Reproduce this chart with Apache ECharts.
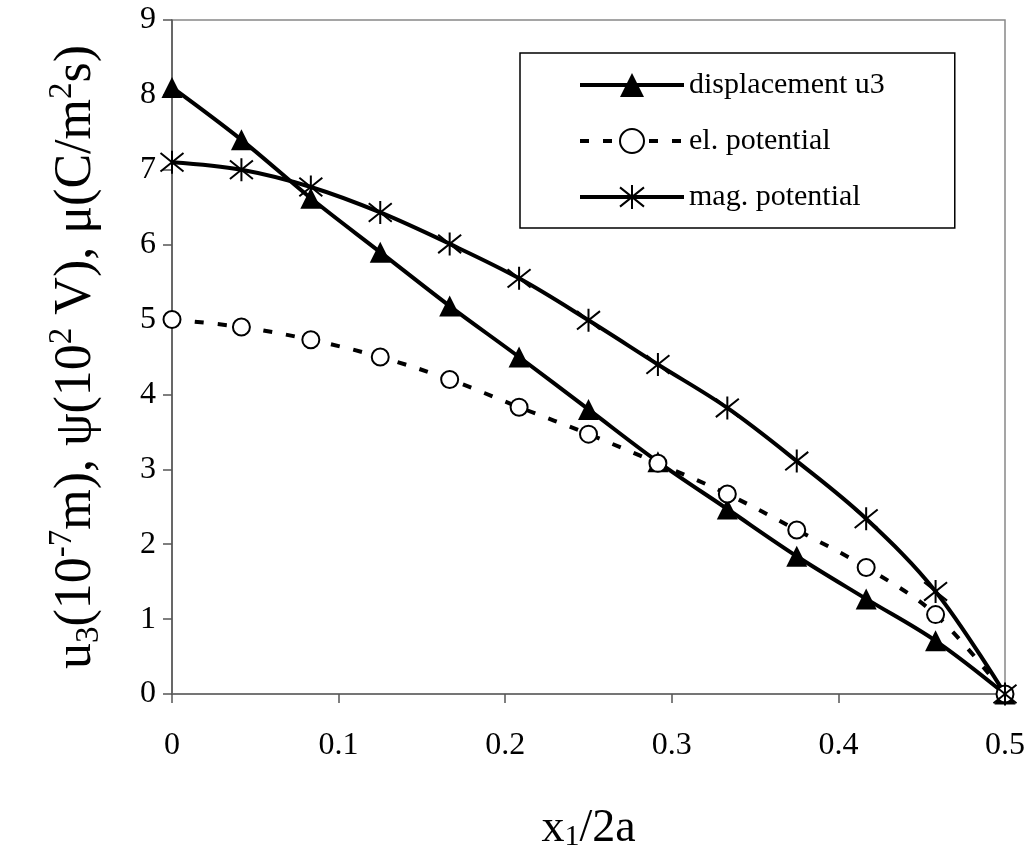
<!DOCTYPE html>
<html>
<head>
<meta charset="utf-8">
<script src="https://cdn.jsdelivr.net/npm/echarts@6/dist/echarts.min.js"></script>
<style>html,body{margin:0;padding:0;background:#fff;}#c{width:1032px;height:850px;}</style>
</head>
<body>
<div id="c"></div>
<script>
const xValues = [0, 1/24, 2/24, 3/24, 4/24, 5/24, 6/24, 7/24, 8/24, 9/24, 10/24, 11/24, 12/24];
const displacementU3 = [8.1, 7.4, 6.62, 5.9, 5.18, 4.5, 3.8, 3.1, 2.47, 1.84, 1.27, 0.71, 0];
const elPotential = [5.0, 4.9, 4.73, 4.5, 4.2, 3.83, 3.47, 3.08, 2.67, 2.19, 1.69, 1.06, 0];
const magPotential = [7.1, 7.0, 6.77, 6.43, 6.01, 5.55, 4.99, 4.4, 3.82, 3.11, 2.34, 1.37, 0];
const seriesNames = ['displacement u3', 'el. potential', 'mag. potential'];

const pair = arr => xValues.map((x, i) => [x, arr[i]]);
const FONT = '"Liberation Serif", "Times New Roman", serif';
const star = 'path://M2,2 L18,18 M18,2 L2,18 M10,0 L10,20';

const chart = echarts.init(document.getElementById('c'), null, {renderer: 'canvas'});
chart.setOption({
  animation: false,
  backgroundColor: '#fff',
  grid: {left: 172, right: 27, top: 20, bottom: 156, show: true, borderColor: '#888', borderWidth: 1.5,
    containLabel: false, outerBoundsMode: 'none'},
  legend: {
    orient: 'vertical', left: 520, top: 53,
    padding: [17, 70, 16, 58],
    itemWidth: 104, itemHeight: 30, itemGap: 26,
    borderColor: '#000', borderWidth: 1.5,
    lineStyle: {width: 4},
    textStyle: {fontFamily: FONT, fontSize: 30, color: '#000'},
    data: seriesNames
  },
  xAxis: {
    type: 'value', min: 0, max: 0.5, interval: 0.1,
    axisLine: {lineStyle: {color: '#666', width: 1.5}},
    axisTick: {inside: false, length: 9, lineStyle: {color: '#555', width: 1.5}},
    splitLine: {show: false},
    axisLabel: {fontFamily: FONT, fontSize: 32, color: '#000', margin: 36,
      formatter: v => v === 0 ? '0' : v.toFixed(1)},
    name: '{n|x}{s|1}{n|/2a}',
    nameLocation: 'middle', nameGap: 112,
    nameTextStyle: {rich: {
      n: {fontFamily: FONT, fontSize: 46, color: '#000'},
      s: {fontFamily: FONT, fontSize: 30, color: '#000', verticalAlign: 'bottom', padding: [16,0,0,0]}
    }}
  },
  yAxis: {
    type: 'value', min: 0, max: 9, interval: 1,
    axisLine: {lineStyle: {color: '#555', width: 1.5}},
    axisTick: {inside: false, length: 9, lineStyle: {color: '#555', width: 1.5}},
    splitLine: {show: false},
    axisLabel: {fontFamily: FONT, fontSize: 32, color: '#000', margin: 16},
    name: '{n|u}{s|3}{n|(10}{p|-7}{n|m), ψ(10}{p|2}{n| V), μ(C/m}{p|2}{n|s)}',
    nameLocation: 'middle', nameGap: 66, nameRotate: 90,
    nameTextStyle: {rich: {
      n: {fontFamily: FONT, fontSize: 52, color: '#000', lineHeight: 60},
      s: {fontFamily: FONT, fontSize: 33, color: '#000', lineHeight: 60, verticalAlign: 'bottom', padding: [20,0,0,0]},
      p: {fontFamily: FONT, fontSize: 33, color: '#000', lineHeight: 60, verticalAlign: 'top', padding: [0,0,24,0]}
    }}
  },
  series: [
    {
      name: seriesNames[0], type: 'line', data: pair(displacementU3), smooth: 0.35,
      symbol: 'triangle', symbolSize: 21,
      lineStyle: {color: '#000', width: 4},
      itemStyle: {color: '#000', borderColor: '#000', borderWidth: 0}
    },
    {
      name: seriesNames[1], type: 'line', data: pair(elPotential), smooth: 0.35,
      symbol: 'circle', symbolSize: 17,
      lineStyle: {color: '#000', width: 4, type: [9, 14]},
      itemStyle: {color: '#fff', borderColor: '#000', borderWidth: 2}
    },
    {
      name: seriesNames[2], type: 'line', data: pair(magPotential), smooth: 0.35,
      symbol: star, symbolSize: 23,
      lineStyle: {color: '#000', width: 4},
      itemStyle: {color: '#000', borderColor: '#000', borderWidth: 2}
    }
  ]
});
</script>
</body>
</html>
